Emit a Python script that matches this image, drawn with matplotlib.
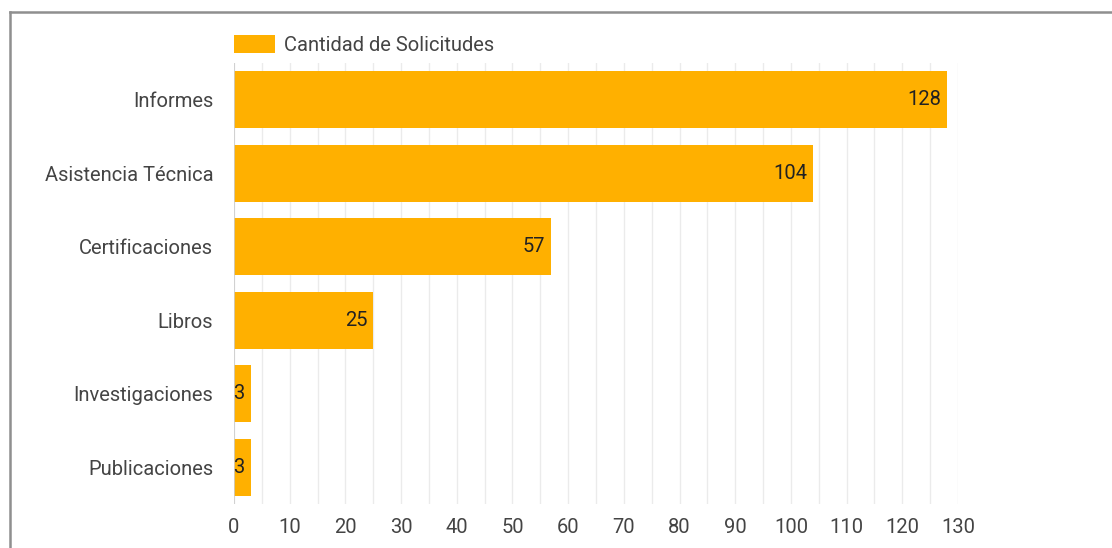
import matplotlib.pyplot as plt
from matplotlib.lines import Line2D
from matplotlib.ticker import MultipleLocator

plt.rcParams['font.family'] = ['Roboto', 'DejaVu Sans']

categorias = ['Informes', 'Asistencia Técnica', 'Certificaciones', 'Libros',
              'Investigaciones', 'Publicaciones']
solicitudes = [128, 104, 57, 25, 3, 3]
serie = 'Cantidad de Solicitudes'

naranja = '#ffb000'
fs = 14.5

fig = plt.figure(figsize=(11.12, 5.48), dpi=100)
ax = fig.add_axes([0.2104, 0.0803, 0.6511, 0.8047])

pos = list(range(len(categorias)))
ax.barh(pos, solicitudes, height=0.78, color=naranja, label=serie, zorder=3)
ax.set_ylim(len(categorias) - 0.5, -0.5)
ax.set_xlim(0, 130)

# etiquetas de valor dentro del extremo de cada barra
for p, v in zip(pos, solicitudes):
    ax.annotate(str(v), (v, p), xytext=(-4.3, 0), textcoords='offset points',
                ha='right', va='center', fontsize=fs, color='#222222', zorder=4)

ax.set_yticks(pos)
ax.set_yticklabels(categorias, fontsize=fs, color='#444444')
ax.xaxis.set_major_locator(MultipleLocator(10))
ax.xaxis.set_minor_locator(MultipleLocator(5))
ax.tick_params(axis='x', labelsize=fs, labelcolor='#444444', length=0, pad=10)
ax.tick_params(axis='x', which='minor', length=0)
ax.tick_params(axis='y', length=0, pad=15)
ax.grid(axis='x', which='both', color='#ebebeb', lw=1, zorder=0)
for s in ax.spines.values():
    s.set_visible(False)
ax.axvline(0, color='#cccccc', lw=1.2, zorder=3)

fig.legend(loc='lower left', bbox_to_anchor=(234 / 1112, 1 - 55 / 548), frameon=False,
           fontsize=fs, labelcolor='#444444', handlelength=2.05, handleheight=1.05,
           handletextpad=0.45, borderpad=0, borderaxespad=0)

# marco gris del recuadro
fig.add_artist(Line2D([10 / 1112, 1.0], [1 - 12 / 548, 1 - 12 / 548],
                      transform=fig.transFigure, color='#8f8f8f', lw=1.8))
fig.add_artist(Line2D([10 / 1112, 10 / 1112], [0.0, 1 - 12 / 548],
                      transform=fig.transFigure, color='#8f8f8f', lw=1.8))

fig.savefig('out.png', dpi=100)
